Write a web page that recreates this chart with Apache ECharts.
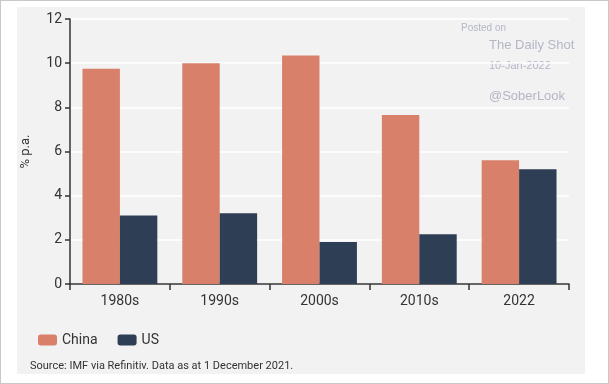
<!DOCTYPE html>
<html><head><meta charset="utf-8">
<script src="https://cdn.jsdelivr.net/npm/echarts@6/dist/echarts.min.js"></script>
<style>
html,body{margin:0;padding:0;background:#fff;}
#c{width:609px;height:384px;box-sizing:border-box;border:1px solid #c8c8c8;}
</style></head><body>
<div id="c"></div>
<script>
const categories = ['1980s','1990s','2000s','2010s','2022'];
const china = [9.75, 10.0, 10.35, 7.65, 5.6];
const us = [3.1, 3.2, 1.9, 2.25, 5.2];
const yTicks = [0, 2, 4, 6, 8, 10, 12];

const chart = echarts.init(document.getElementById('c'), null, {renderer:'canvas'});
const font = 'Roboto, "Noto Sans", sans-serif';
chart.setOption({
  animation:false,
  textStyle:{fontFamily:font},
  graphic:[
    {type:'rect', z:-10, shape:{x:16,y:6,width:568,height:367}, style:{fill:'#f2f2f2'}},
    {type:'text', left:460, top:22, style:{text:'Posted on', fill:'#b4b6c6', font:'10px Arial'}},
    {type:'text', left:488, top:38, style:{text:'The Daily Shot', fill:'#b4b6c6', font:'13px Arial'}},
    {type:'text', left:488, top:59, style:{text:'10-Jan-2022', fill:'#b4b6c6', font:'11px Arial'}},
    {type:'text', left:488, top:89, style:{text:'@SoberLook', fill:'#b4b6c6', font:'13px Arial'}},
    {type:'text', left:29, top:360, style:{text:'Source: IMF via Refinitiv. Data as at 1 December 2021.', fill:'#333', font:'11px '+font}}
  ],
  legend:{
    left:32, top:327, itemWidth:19, itemHeight:11, itemGap:20,
    textStyle:{fontSize:14, color:'#333', fontFamily:font},
    data:['China','US']
  },
  grid:{left:69, right:39, top:18, bottom:99},
  xAxis:{
    type:'category', data:categories,
    axisLine:{lineStyle:{color:'#333', width:1.5}},
    axisTick:{show:true, length:6, lineStyle:{color:'#333', width:1.5}},
    axisLabel:{fontSize:14, color:'#333', margin:10}
  },
  yAxis:{
    type:'value', min:0, max:12, interval:2,
    name:'% p.a.', nameLocation:'middle', nameGap:38, nameRotate:90,
    nameTextStyle:{fontSize:13, color:'#333'},
    axisLine:{show:true, lineStyle:{color:'#333', width:1.5}},
    axisTick:{show:true, length:5, lineStyle:{color:'#333', width:1.5}},
    axisLabel:{fontSize:14, color:'#333', margin:8, formatter:v=>yTicks.includes(v)?String(v):''},
    splitLine:{show:true, lineStyle:{color:'#ffffff', width:1.5}}
  },
  series:[
    {name:'China', type:'bar', data:china, barGap:'0%', barCategoryGap:'25%', itemStyle:{color:'#d9806a'}},
    {name:'US', type:'bar', data:us, itemStyle:{color:'#2e3e55'}}
  ]
});
</script></body></html>
